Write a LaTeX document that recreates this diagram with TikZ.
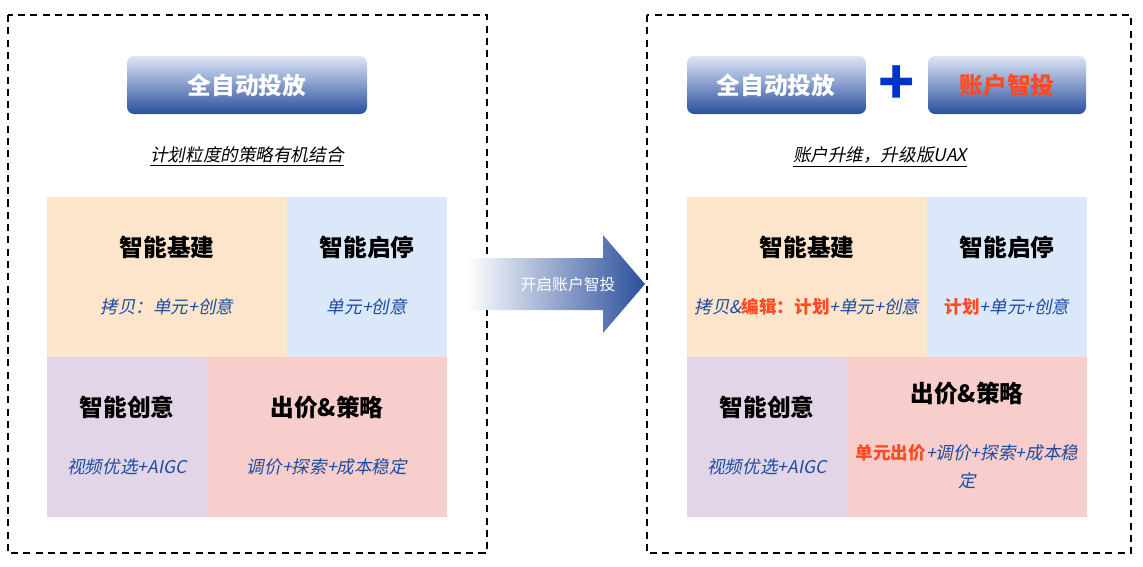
\documentclass[tikz,border=0pt]{standalone}
\usepackage{fontspec}
\setmainfont{Noto Sans CJK SC}[AutoFakeSlant=0.2]
\usetikzlibrary{positioning}
\definecolor{btndark}{HTML}{2B4F9C}
\definecolor{btnlight}{HTML}{DCE6F7}
\definecolor{subblue}{HTML}{1C4BA0}
\definecolor{hotred}{HTML}{FF4A23}
\definecolor{cellorange}{HTML}{FDE5CC}
\definecolor{cellblue}{HTML}{DAE8FA}
\definecolor{cellpurple}{HTML}{E1D5E7}
\definecolor{cellpink}{HTML}{F8CECC}
\newcommand{\hot}[1]{\textcolor{hotred}{\bfseries #1}}
\begin{document}
\begin{tikzpicture}[x=0.02cm, y=-0.02cm]

\tikzset{
  frame/.style={draw, dashed, line width=0.9pt, dash pattern=on 4pt off 3pt},
  btn/.style={rounded corners=4pt, top color=btnlight, bottom color=btndark, draw=none},
  btntext/.style={text=white, font=\fontsize{13.5}{15}\selectfont\bfseries},
  title/.style={font=\fontsize{13.5}{15}\selectfont\bfseries},
  sub/.style={text=subblue, font=\fontsize{10}{16}\selectfont\itshape, align=center},
  caption/.style={font=\fontsize{10}{12}\selectfont\itshape}
}
\useasboundingbox (0,0) rectangle (1143,566);

% --- frames ---
\draw[frame] (8,15) rectangle (487,553);
\draw[frame] (647,15) rectangle (1131,553);

% --- left: before ---
\shade[btn] (127,56) rectangle (367,114);
\node[btntext] (lbtn) at (247,85) {全自动投放};
\node[caption] (lcap) at (247,157) {\underline{计划粒度的策略有机结合}};

\fill[cellorange] (47,197) rectangle (287,357);
\fill[cellblue] (287,197) rectangle (447,357);
\fill[cellpurple] (47,357) rectangle (207,517);
\fill[cellpink] (207,357) rectangle (447,517);

\node[title] (lt1) at (167,247) {智能基建};
\node[sub] (ls1) at (167,307) {拷贝：单元+创意};
\node[title] (lt2) at (367,247) {智能启停};
\node[sub] (ls2) at (367,307) {单元+创意};
\node[title] (lt3) at (127,407) {智能创意};
\node[sub] (ls3) at (127,467) {视频优选+AIGC};
\node[title] (lt4) at (327,407) {出价\&策略};
\node[sub] (ls4) at (327,467) {调价+探索+成本稳定};

% --- middle arrow ---
\shade[left color=white, right color=btndark]
  (467,258) -- (603,258) -- (603,235) -- (645,284) -- (603,333) -- (603,310) -- (467,310) -- cycle;
\node[text=white, font=\fontsize{9}{10}\selectfont] (go) at (568,284) {开启账户智投};

% --- right: after ---
\shade[btn] (687,56) rectangle (866,114);
\node[btntext] (rbtn1) at (776,85) {全自动投放};
\node[text=blue!75!cyan!80!black, font=\fontsize{34}{34}\selectfont\bfseries] (plus) at (897,85) {+};
\shade[btn] (928,56) rectangle (1086,114);
\node[btntext, text=hotred] (rbtn2) at (1007,85) {账户智投};
\node[caption] (rcap) at (880,157) {\underline{账户升维，升级版UAX}};

\fill[cellorange] (687,197) rectangle (927,357);
\fill[cellblue] (927,197) rectangle (1087,357);
\fill[cellpurple] (687,357) rectangle (847,517);
\fill[cellpink] (847,357) rectangle (1087,517);

\node[title] (rt1) at (807,247) {智能基建};
\node[sub] (rs1) at (807,307) {拷贝\&\hot{编辑：计划}+单元+创意};
\node[title] (rt2) at (1007,247) {智能启停};
\node[sub] (rs2) at (1007,307) {\hot{计划}+单元+创意};
\node[title] (rt3) at (767,407) {智能创意};
\node[sub] (rs3) at (767,467) {视频优选+AIGC};
\node[title] (rt4) at (967,393) {出价\&策略};
\node[sub] (rs4) at (967,467) {\hot{单元出价}+调价+探索+成本稳\\定};

\end{tikzpicture}
\end{document}
